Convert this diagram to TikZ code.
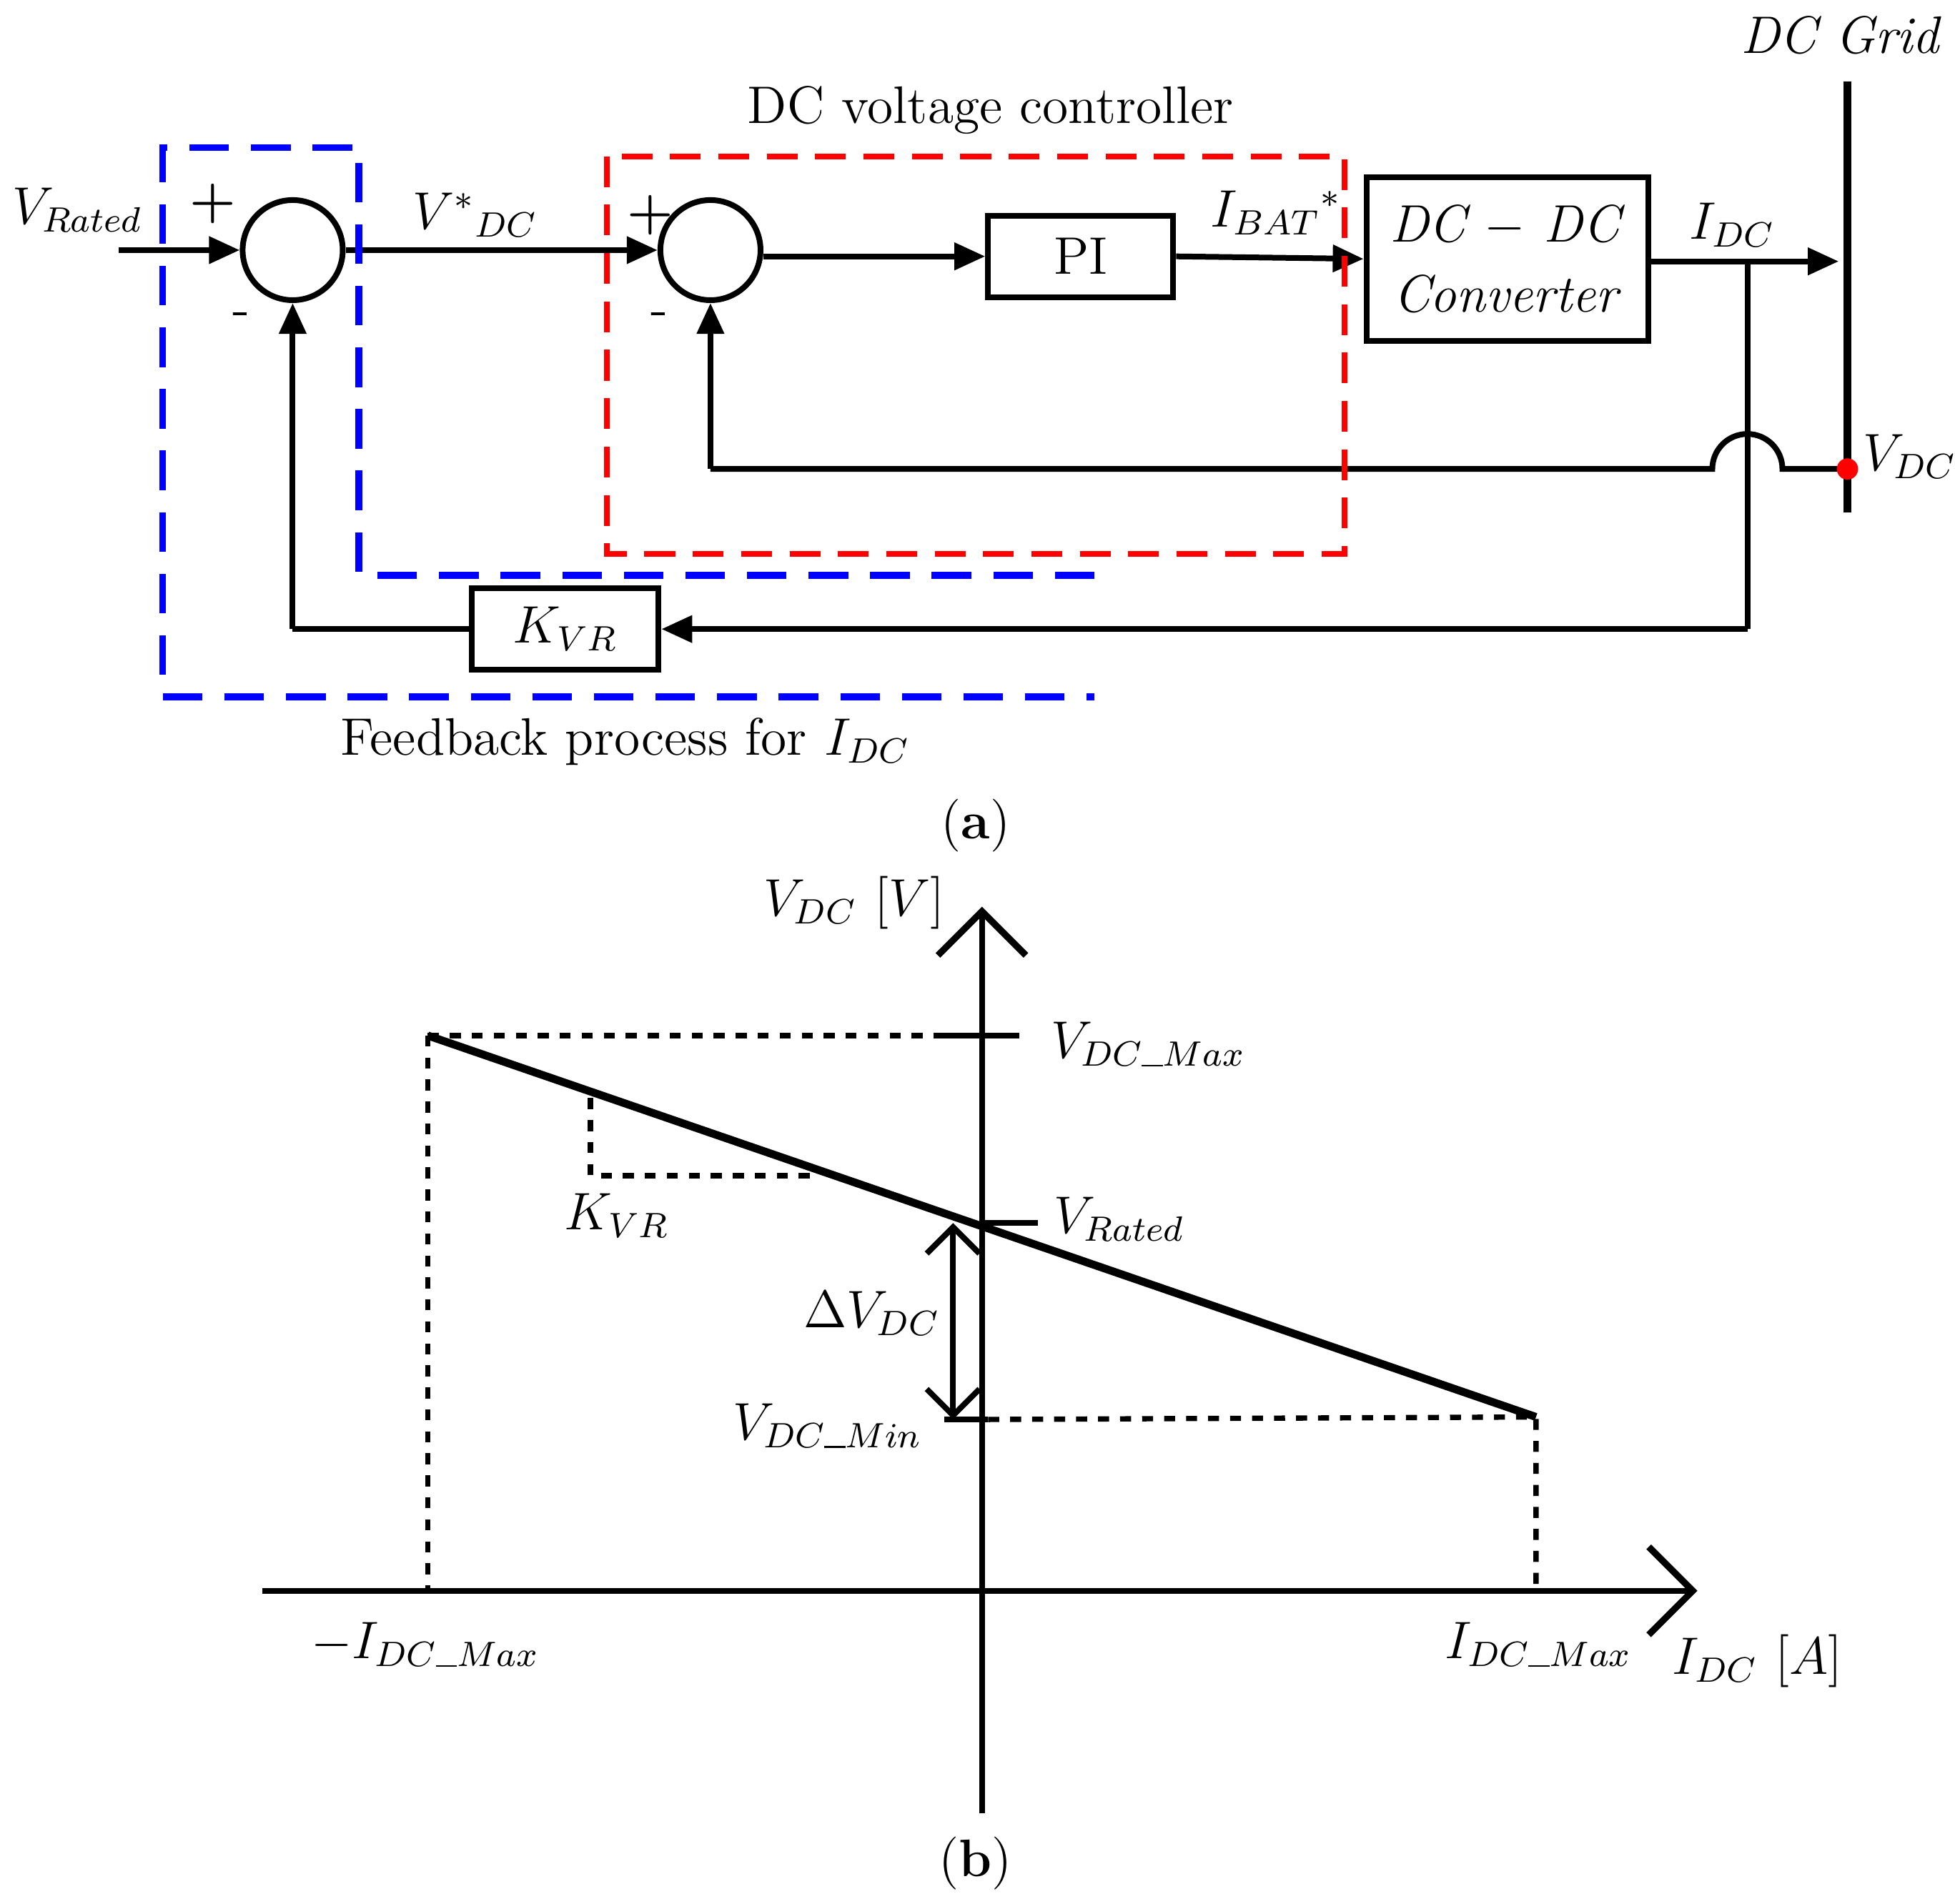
\documentclass[tikz,border=0pt]{standalone}
\usetikzlibrary{arrows.meta}
\newcommand{\us}{\rule{0.4em}{0.35pt}}
\begin{document}
\begin{tikzpicture}[x=0.01cm,y=-0.01cm,
  ln/.style={line width=1.3pt},
  arr/.style={ln,-{Triangle[length=7pt,width=6pt]}},
  sum/.style={circle,draw,line width=1.3pt,minimum size=0.8cm,inner sep=0pt},
  blk/.style={draw,line width=1.3pt,inner sep=0pt},
  lab/.style={font=\fontsize{12}{14}\selectfont},
  dot/.style={line width=1.2pt,dash pattern=on 2.5pt off 2.5pt},
  chev/.style={ln,-{Straight Barb[length=10pt,width=20pt,line width=1.5pt]}}]
\useasboundingbox (0,0) rectangle (1563,1522);
% ---- (a)
\node[lab] at (1472,28) {\textit{DC Grid}};
\coordinate (g1) at (1477,65); \coordinate (g2) at (1477,410);
\draw[line width=1.8pt] (g1)--(g2);
\node[lab] (vr) at (62,168) {$V_{Rated}$};
\coordinate (vin) at (95,200);
\node[sum] (s1) at (234,200) {};
\node[sum] (s2) at (568,200) {};
\node[lab] at (170,163) {\textbf{+}};
\node[lab] at (193,255) {-};
\node[lab] at (520,172) {\textbf{+}};
\node[lab] at (527,255) {-};
\draw[arr] (vin)--(s1.west);
\draw[arr] (s1.east)--(s2.west);
\node[lab] at (380,172) {$V^*{}_{DC}$};
\node[blk,minimum width=1.48cm,minimum height=0.65cm,lab] (pi) at (864,205) {PI};
\draw[arr] (s2.east|-pi.west)++(0,0) -- (pi.west);
\node[blk,minimum width=2.25cm,minimum height=1.31cm,lab,align=center] (cv) at (1205,207) {\textit{DC\ $-$ DC}\\[2pt]\textit{Converter}};
\draw[arr] (pi.east)--(cv.west);
\node[lab] at (1020,170) {$I_{BAT}{}^{*}$};
\coordinate (o1) at (1470,209);
\draw[arr] (cv.east|-o1)--(o1);
\node[lab] at (1385,180) {$I_{DC}$};
\coordinate (j1) at (1397,209); \coordinate (j2) at (1397,503);
\draw[ln] (j1)--(j2);
\coordinate (vd) at (1477,375);
\node[lab] at (1527,365) {$V_{DC}$};
\coordinate (h1) at (1425,375); \coordinate (h2) at (1369,375); \coordinate (f1) at (568,375);
\draw[ln] (vd)--(h1) arc[start angle=0,end angle=180,radius=0.28cm] -- (f1);
\fill[red] (vd) circle (0.085cm);
\draw[arr] (f1)--(s2.south);
\node[blk,minimum width=1.49cm,minimum height=0.65cm,lab] (kv) at (452,503) {$K_{VR}$};
\draw[arr] (j2)--(kv.east);
\coordinate (k1) at (234,503);
\draw[ln] (kv.west)--(k1);
\draw[arr] (k1)--(s1.south);
\draw[blue,line width=1.6pt,dash pattern=on 9pt off 5pt] (875,460)--(287,460)--(287,118)--(130,118)--(130,557)--(875,557);
\draw[red,line width=1.3pt,dash pattern=on 7pt off 4pt] (485,125) rectangle (1075,443);
\node[lab] at (792,88) {DC voltage controller};
\node[lab] at (500,593) {Feedback process for $I_{DC}$};
\node[lab] at (780,660) {(\textbf{a})};
% ---- (b)
\coordinate (ya) at (785,1450); \coordinate (yb) at (785,725);
\coordinate (xa) at (210,1272); \coordinate (xb) at (1357,1272);
\draw[chev] (ya)--(yb);
\draw[chev] (xa)--(xb);
\node[lab] at (683,722) {$V_{DC}\ [V]$};
\node[lab] at (1405,1328) {$I_{DC}\ [A]$};
\coordinate (p1) at (342,828); \coordinate (p2) at (1228,1133);
\draw[line width=1.8pt] (p1)--(p2);
\draw[dot] (p1)--(755,828);
\draw[dot] (p1)--(342,1272);
\draw[dot] (790,1135)--(p2)--(1228,1272);
\draw[ln] (755,828)--(815,828);
\draw[ln] (755,1135)--(790,1135);
\draw[ln] (785,978)--(830,978);
\draw[dot] (472,878)--(472,940)--(655,940);
\draw[line width=1.3pt,{Straight Barb[length=6pt]}-{Straight Barb[length=6pt]}] (762,978)--(762,1135);
\node[lab] at (918,835) {$V_{DC\us Max}$};
\node[lab] at (895,975) {$V_{Rated}$};
\node[lab] at (662,1140) {$V_{DC\us Min}$};
\node[lab] at (697,1050) {$\Delta V_{DC}$};
\node[lab] at (493,972) {$K_{VR}$};
\node[lab] at (340,1315) {$-I_{DC\us Max}$};
\node[lab] at (1230,1315) {$I_{DC\us Max}$};
\node[lab] at (780,1490) {(\textbf{b})};
\end{tikzpicture}
\end{document}
